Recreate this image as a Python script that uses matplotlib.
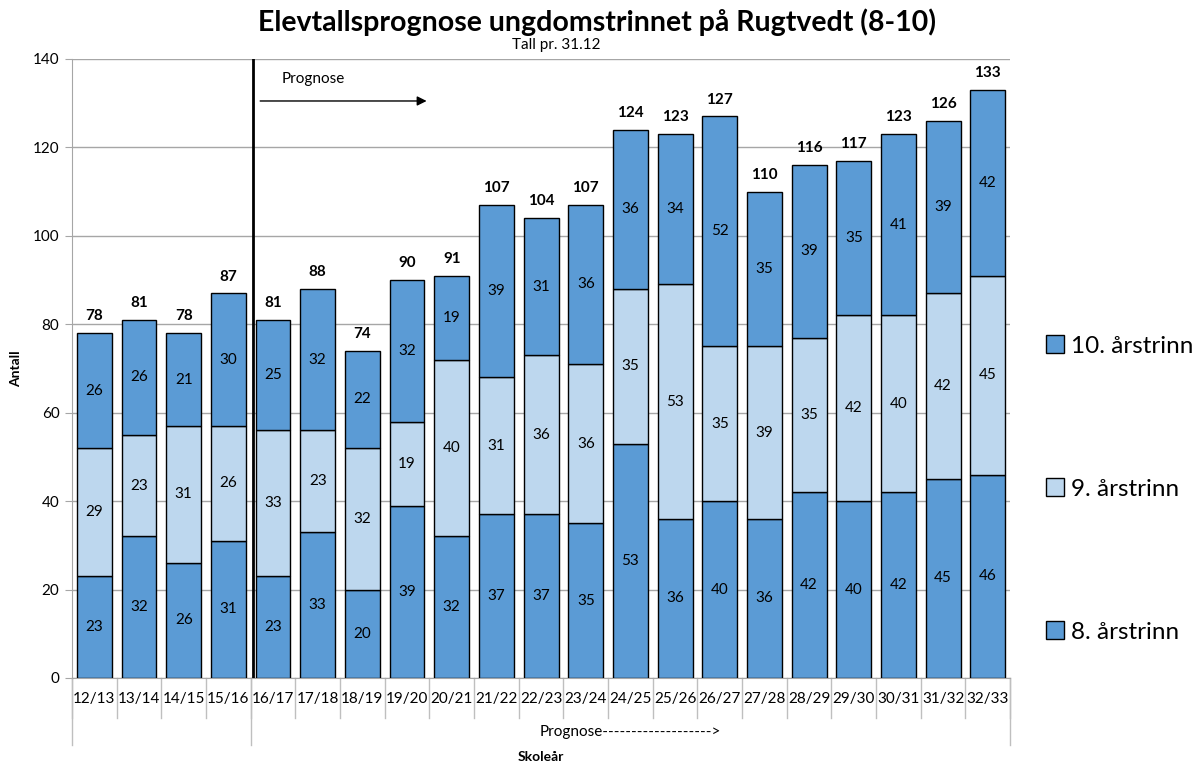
import numpy as np
import matplotlib.pyplot as plt
from matplotlib.patches import Patch

plt.rcParams['font.family'] = ['Lato', 'DejaVu Sans']

years = ["12/13", "13/14", "14/15", "15/16", "16/17", "17/18", "18/19", "19/20",
         "20/21", "21/22", "22/23", "23/24", "24/25", "25/26", "26/27", "27/28",
         "28/29", "29/30", "30/31", "31/32", "32/33"]
trinn8 = [23, 32, 26, 31, 23, 33, 20, 39, 32, 37, 37, 35, 53, 36, 40, 36, 42, 40, 42, 45, 46]
trinn9 = [29, 23, 31, 26, 33, 23, 32, 19, 40, 31, 36, 36, 35, 53, 35, 39, 35, 42, 40, 42, 45]
trinn10 = [26, 26, 21, 30, 25, 32, 22, 32, 19, 39, 31, 36, 36, 34, 52, 35, 39, 35, 41, 39, 42]
groups = ["", "Prognose------------------->"]
group_sizes = [4, 17]

dark = "#5B9BD5"
light = "#BDD7EE"
grid_c = "#A6A6A6"

fig = plt.figure(figsize=(12.02, 7.64), dpi=100)
ax = fig.add_axes([0.0599, 0.1126, 0.7805, 0.8102])

x = np.arange(len(years))
a8 = np.array(trinn8)
a9 = np.array(trinn9)
a10 = np.array(trinn10)
w = 0.78
b8 = ax.bar(x, a8, w, color=dark, edgecolor="black", linewidth=1, zorder=3)
b9 = ax.bar(x, a9, w, bottom=a8, color=light, edgecolor="black", linewidth=1, zorder=3)
b10 = ax.bar(x, a10, w, bottom=a8 + a9, color=dark, edgecolor="black", linewidth=1, zorder=3)

for vals, base in [(a8, np.zeros_like(a8)), (a9, a8), (a10, a8 + a9)]:
    for i, v in enumerate(vals):
        ax.text(x[i], base[i] + v / 2, str(v), ha="center", va="center",
                fontsize=11, zorder=4)

totals = a8 + a9 + a10
for i, t in enumerate(totals):
    ax.text(x[i], t + 2.2, str(t), ha="center", va="bottom", fontsize=11,
            fontweight="bold")

ax.set_xlim(-0.5, len(years) - 0.5)
ax.set_ylim(0, 140)
ax.set_yticks(range(0, 141, 20))
ax.yaxis.grid(True, color=grid_c, linewidth=1, zorder=0)
ax.tick_params(axis="y", labelsize=11, length=5, color=grid_c, pad=4)
ax.set_xticks(x)
ax.set_xticklabels(years, fontsize=11)
ax.tick_params(axis="x", length=0, pad=10)
for s in ["top", "right"]:
    ax.spines[s].set_visible(False)
ax.spines["left"].set_color(grid_c)
ax.spines["bottom"].set_color(grid_c)

# category separators below the axis
tr = ax.get_xaxis_transform()
for i in range(len(years) + 1):
    ax.plot([i - 0.5, i - 0.5], [0, -0.065], color="#BFBFBF", lw=1,
            transform=tr, clip_on=False)
pos = -0.5
edges = [pos]
for n in group_sizes:
    pos += n
    edges.append(pos)
for e in edges:
    ax.plot([e, e], [0, -0.108], color="#BFBFBF", lw=1, transform=tr, clip_on=False)
for g, lo, hi in zip(groups, edges[:-1], edges[1:]):
    ax.text((lo + hi) / 2, -0.087, g, transform=tr, ha="center", va="center",
            fontsize=11)

ax.text(0.5, -0.128, "Skoleår", transform=ax.transAxes, ha="center", va="center",
        fontsize=10, fontweight="bold")
fig.text(0.013, 0.518, "Antall", rotation=90, ha="center", va="center",
         fontsize=10, fontweight="bold")

# prognose marker
ax.plot([3.55, 3.55], [0, 140], color="black", lw=2, zorder=5)
ax.annotate("", xy=(7.5, 130.5), xytext=(3.65, 130.5),
            arrowprops=dict(arrowstyle="-|>", color="black", lw=1, mutation_scale=14))
ax.text(4.2, 135.5, "Prognose", fontsize=11, va="center", ha="left")

fig.text(0.497, 0.971, "Elevtallsprognose ungdomstrinnet på Rugtvedt (8-10)",
         ha="center", va="center", fontsize=20.5, fontweight="bold")
fig.text(0.463, 0.941, "Tall pr. 31.12", ha="center", va="center", fontsize=11)

handles = [Patch(facecolor=dark, edgecolor="black", label="10. årstrinn"),
           Patch(facecolor=light, edgecolor="black", label="9. årstrinn"),
           Patch(facecolor=dark, edgecolor="black", label="8. årstrinn")]
fig.legend(handles=handles, loc="center left", bbox_to_anchor=(0.852, 0.36),
           frameon=False, fontsize=17.5, labelspacing=5.0, handlelength=0.75,
           handleheight=0.75, handletextpad=0.3)

fig.savefig("out.png", dpi=100)
